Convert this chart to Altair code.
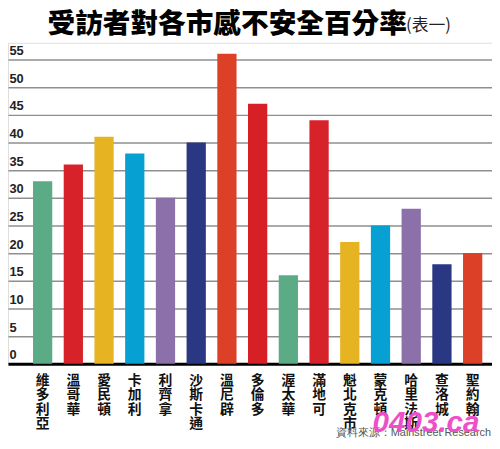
import altair as alt
import pandas as pd

cities = ["維多利亞", "溫哥華", "愛民頓", "卡加利", "利齊拿", "沙斯卡通", "溫尼辟",
          "多倫多", "渥太華", "滿地可", "魁北克市", "蒙克頓", "哈里法斯", "查洛城", "聖約翰"]
values = [33, 36, 41, 38, 30, 40, 56, 47, 16, 44, 22, 25, 28, 18, 20]
colors = ["#5bab86", "#d8222a", "#e6b323", "#07a0d3", "#8c70aa", "#2a3783", "#dc4128",
          "#d71f26", "#5bab86", "#d8222a", "#e6b323", "#07a0d3", "#8c70aa", "#2a3783", "#dc4128"]
y_ticks = [0, 5, 10, 15, 20, 25, 30, 35, 40, 45, 50, 55]

title_main = "受訪者對各市感不安全百分率"
title_sub = "(表一)"
source = "資料來源：Mainstreet Research"
watermark = "0403.ca"

CJK = "Noto Sans CJK TC"

df = pd.DataFrame({"city": cities, "value": values})

bars = alt.Chart(df).mark_bar().encode(
    x=alt.X("city:N", sort=cities,
            scale=alt.Scale(paddingInner=0.373, paddingOuter=0.565, align=0.72),
            axis=alt.Axis(title=None, labelAngle=0, labelExpr="split(datum.label, '')",
                          labelFont=CJK, labelFontSize=14, labelFontWeight="bold",
                          labelColor="#111", labelLineHeight=14.5, labelBaseline="top",
                          labelPadding=10, ticks=False, domainColor="#000", domainWidth=3,
                          grid=False)),
    y=alt.Y("value:Q", scale=alt.Scale(domain=[0, 58], nice=False),
            axis=alt.Axis(title=None, values=y_ticks, grid=True, gridColor="#8f8f8f",
                          gridWidth=1.5, domain=False, ticks=False, labelAlign="left",
                          labelPadding=-1, labelBaseline="alphabetic", labelOffset=-5,
                          labelFont="Liberation Sans", labelFontSize=13,
                          labelFontWeight="bold", labelColor="#222")),
    color=alt.Color("city:N", scale=alt.Scale(domain=cities, range=colors), legend=None),
)

t_main = alt.Chart(pd.DataFrame({"t": [title_main]})).mark_text(
    font=CJK, fontSize=28, fontWeight=900, color="#000", align="left", baseline="middle"
).encode(text="t:N", x=alt.value(40), y=alt.value(-18))

t_sub = alt.Chart(pd.DataFrame({"t": [title_sub]})).mark_text(
    font=CJK, fontSize=17, color="#222", align="left", baseline="middle"
).encode(text="t:N", x=alt.value(403), y=alt.value(-17))

t_src = alt.Chart(pd.DataFrame({"t": [source]})).mark_text(
    font="Liberation Sans", fontSize=11, color="#555", align="right", baseline="middle"
).encode(text="t:N", x=alt.value(489), y=alt.value(395.5))

t_wm = alt.Chart(pd.DataFrame({"t": [watermark]})).mark_text(
    font="Liberation Sans", fontSize=30, fontWeight="bold", fontStyle="italic",
    color="#ee4fc8", align="left", baseline="alphabetic"
).encode(text="t:N", x=alt.value(369), y=alt.value(394.5))

chart = alt.layer(bars, t_main, t_sub, t_src, t_wm).properties(
    width=490, height=325,
    padding={"left": 0, "top": 32.5, "right": 0, "bottom": 80},
    autosize=alt.AutoSizeParams(type="none"),
).configure_view(stroke=None).configure(background="#ffffff")

chart.save("out.html", embed_options={"renderer": "svg", "actions": False})
